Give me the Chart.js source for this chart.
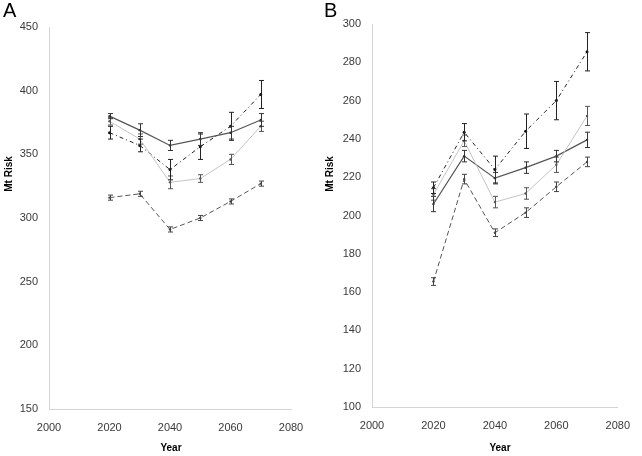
<!DOCTYPE html>
<html>
<head>
<meta charset="utf-8">
<script src="https://cdn.jsdelivr.net/npm/chart.js@4"></script>
<style>
  body { margin: 0; background: #fff; }
  .panel { position: absolute; top: 0; width: 321px; height: 456px; }
</style>
</head>
<body>
<div class="panel" style="left:0"><canvas id="chartA" width="321" height="456"></canvas></div>
<div class="panel" style="left:321px"><canvas id="chartB" width="321" height="456"></canvas></div>
<script>
'use strict'

const years = [2020, 2030, 2040, 2050, 2060, 2070];
const xTicks = [2000, 2020, 2040, 2060, 2080];

// panel A
const aSolid = [380, 369, 357, 362, 367, 377];
const aSolidErr = [2, 5, 4, 5, 5, 5];
const aLight = [376, 362, 328, 331, 346, 372];
const aLightErr = [3, 4, 5, 3, 4, 4];
const aDashDot = [367, 357, 338, 356, 372, 397];
const aDashDotErr = [5, 5, 8, 10, 11, 11];
const aDashed = [316, 319, 291, 300, 313, 327];
const aDashedErr = [2, 2, 2, 2, 2, 2];

// panel B
const bSolid = [206, 231, 219.5, 225, 231, 239.5];
const bSolidErr = [4, 3, 3, 3, 3, 4];
const bLight = [211, 239, 207, 211.5, 226.5, 252];
const bLightErr = [3, 3, 3, 3, 4, 5];
const bDashDot = [214.5, 243.5, 224, 244, 260, 285.5];
const bDashDotErr = [3, 4.5, 7, 9, 10, 10];
const bDashed = [165.5, 219, 191, 201.5, 215, 228];
const bDashedErr = [2, 2.5, 2, 2.5, 2.5, 2.5];

const FONT = '"Liberation Sans", Arial, sans-serif';

// error bars drawn from dataset.errors
const errorBars = {
  id: 'errorBars',
  afterDatasetsDraw(chart) {
    const ctx = chart.ctx;
    const yScale = chart.scales.y;
    chart.data.datasets.forEach((ds, i) => {
      const meta = chart.getDatasetMeta(i);
      ctx.save();
      ctx.strokeStyle = ds.errColor || '#333';
      ctx.lineWidth = 1;
      meta.data.forEach((pt, j) => {
        const v = ds.data[j].y;
        const e = ds.errors[j];
        const x = Math.round(pt.x) + 0.5;
        const yTop = yScale.getPixelForValue(v + e);
        const yBot = yScale.getPixelForValue(v - e);
        ctx.beginPath();
        ctx.moveTo(x, yTop);
        ctx.lineTo(x, yBot);
        ctx.moveTo(x - 2.5, yTop);
        ctx.lineTo(x + 2.5, yTop);
        ctx.moveTo(x - 2.5, yBot);
        ctx.lineTo(x + 2.5, yBot);
        ctx.stroke();
      });
      ctx.restore();
    });
  }
};

// panel letter and axis titles
const labels = {
  id: 'labels',
  afterDraw(chart, args, opts) {
    const ctx = chart.ctx;
    ctx.save();
    ctx.fillStyle = '#000';
    ctx.font = '20px ' + FONT;
    ctx.textBaseline = 'top';
    ctx.textAlign = 'left';
    ctx.fillText(opts.letter, 3, 1);

    ctx.font = 'bold 10px ' + FONT;
    ctx.textAlign = 'center';
    ctx.textBaseline = 'middle';
    ctx.fillText('Year', opts.yearX, 448);

    ctx.translate(opts.riskX, 174);
    ctx.rotate(-Math.PI / 2);
    ctx.fillText('Mt Risk', 0, 0);
    ctx.restore();
  }
};

function makeSeries(solid, solidErr, light, lightErr, dashDot, dashDotErr, dashed, dashedErr) {
  const pts = arr => arr.map((v, i) => ({ x: years[i], y: v }));
  return [
    {
      data: pts(light), errors: lightErr, errColor: '#555',
      borderColor: '#c4c4c4', backgroundColor: '#555', borderWidth: 1,
      pointRadius: 1.2, pointBorderWidth: 0,
    },
    {
      data: pts(dashed), errors: dashedErr, errColor: '#444',
      borderColor: '#555', backgroundColor: '#444', borderWidth: 1, borderDash: [5, 3],
      pointRadius: 1.2, pointBorderWidth: 0,
    },
    {
      data: pts(dashDot), errors: dashDotErr, errColor: '#222',
      borderColor: '#222', backgroundColor: '#111', borderWidth: 1, borderDash: [4, 3, 1, 3],
      pointRadius: 1.5, pointBorderWidth: 0,
    },
    {
      data: pts(solid), errors: solidErr, errColor: '#333',
      borderColor: '#555', backgroundColor: '#333', borderWidth: 1.2,
      pointRadius: 1.2, pointBorderWidth: 0,
    },
  ];
}

function makeChart(id, datasets, cfg) {
  return new Chart(document.getElementById(id), {
    type: 'line',
    data: { datasets },
    plugins: [errorBars, labels],
    options: {
      responsive: false,
      animation: false,
      layout: { padding: { left: 0, right: cfg.padRight, top: cfg.padTop, bottom: 0 } },
      plugins: {
        legend: { display: false },
        tooltip: { enabled: false },
        labels: { letter: cfg.letter, yearX: cfg.yearX, riskX: 9 },
      },
      scales: {
        x: {
          type: 'linear',
          min: 2000,
          max: 2080,
          afterBuildTicks: s => { s.ticks = xTicks.map(v => ({ value: v })); },
          afterFit: s => { s.height = cfg.xHeight; },
          grid: { drawOnChartArea: false, drawTicks: false },
          border: { color: '#d4d4d4', width: 1 },
          ticks: {
            padding: 12, color: '#3a3a3a', font: { family: FONT, size: 11 }, maxRotation: 0,
            callback: v => String(v),
          },
        },
        y: {
          min: cfg.yMin,
          max: cfg.yMax,
          afterBuildTicks: s => { s.ticks = cfg.yTicks.map(v => ({ value: v })); },
          afterFit: s => { s.width = cfg.yWidth; },
          grid: { drawOnChartArea: false, drawTicks: false },
          border: { color: '#d4d4d4', width: 1 },
          ticks: { padding: 11, color: '#3a3a3a', font: { family: FONT, size: 11 }, callback: v => String(v) },
        },
      },
    },
  });
}

makeChart('chartA',
  makeSeries(aSolid, aSolidErr, aLight, aLightErr, aDashDot, aDashDotErr, aDashed, aDashedErr),
  { letter: 'A', yMin: 150, yMax: 450, yTicks: [150, 200, 250, 300, 350, 400, 450],
    padTop: 27, padRight: 30, xHeight: 47, yWidth: 49, yearX: 171 });

makeChart('chartB',
  makeSeries(bSolid, bSolidErr, bLight, bLightErr, bDashDot, bDashDotErr, bDashed, bDashedErr),
  { letter: 'B', yMin: 100, yMax: 300, yTicks: [100, 120, 140, 160, 180, 200, 220, 240, 260, 280, 300],
    padTop: 24, padRight: 15, xHeight: 49, yWidth: 51, yearX: 179 });
</script>
</body>
</html>
